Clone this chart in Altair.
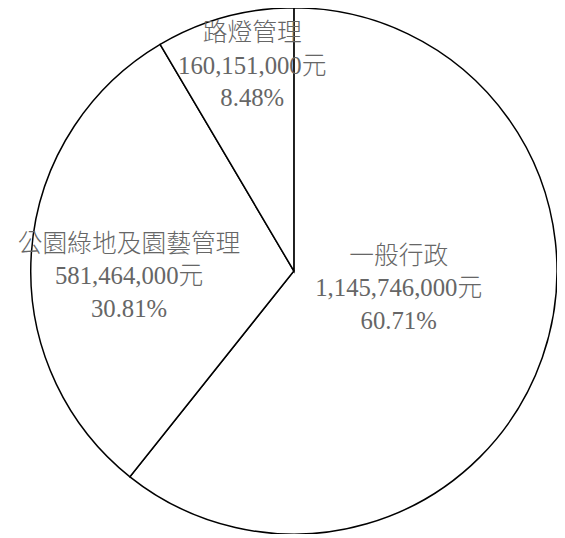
import altair as alt
import pandas as pd

categories = ["一般行政", "公園綠地及園藝管理", "路燈管理"]
amounts = [1145746000, 581464000, 160151000]
pct_labels = ["60.71%", "30.81%", "8.48%"]

df = pd.DataFrame({
    "idx": list(range(len(categories))),
    "category": categories,
    "amount": amounts,
    "label": [f"{c}\n{a:,}元\n{p}" for c, a, p in zip(categories, amounts, pct_labels)],
})

base = alt.Chart(df)

arc = base.mark_arc(outerRadius=266, fill="white", stroke="black", strokeWidth=1.5).encode(
    theta=alt.Theta("amount:Q", stack=True),
    order=alt.Order("idx:Q"),
)

FONT = "Liberation Serif, Noto Sans CJK TC, serif"
# label placement (radius, dx, dy) per slice; anchor is the first line
placement = {
    "一般行政": (108, 4, -51),
    "公園綠地及園藝管理": (167, 0, -16),
    "路燈管理": (209, 13, -39),
}

layers = [arc]
for cat, (r, dx, dy) in placement.items():
    t = (
        base.transform_joinaggregate(total="sum(amount)")
        .transform_window(cum="sum(amount)", sort=[alt.SortField("idx")], frame=[None, 0])
        .transform_calculate(mid="(datum.cum - datum.amount / 2) / datum.total")
        .transform_filter(alt.datum.category == cat)
        .mark_text(
            radius=r, dx=dx, dy=dy, lineBreak="\n", lineHeight=33,
            font=FONT, fontSize=25, fontWeight=300, color="#666666",
            align="center", baseline="middle",
        )
        .encode(
            theta=alt.Theta("mid:Q", scale=alt.Scale(domain=[0, 1])),
            text="label:N",
        )
    )
    layers.append(t)

chart = (
    alt.layer(*layers)
    .resolve_scale(theta="independent")
    .properties(
        width=532, height=526,
        padding={"left": 23, "top": 0, "right": 0, "bottom": 0},
        autosize="none",
    )
    .configure_view(stroke=None)
)

chart.save("out.html", embed_options={"renderer": "svg", "actions": False})
